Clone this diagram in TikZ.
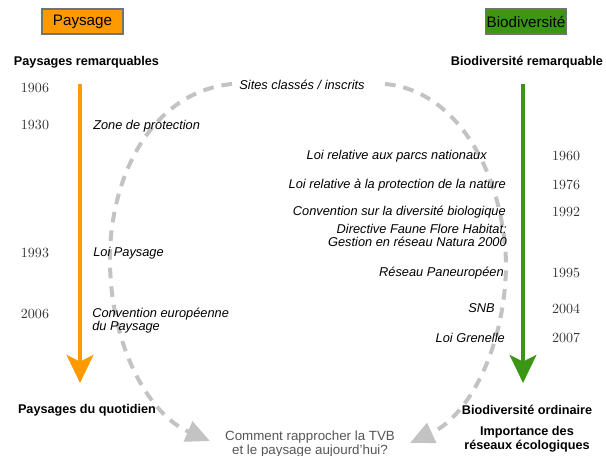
\documentclass[tikz,border=0pt]{standalone}
\usepackage{fontspec}
\setsansfont{Liberation Sans}
\usetikzlibrary{arrows.meta}
\definecolor{paysorange}{RGB}{255,153,0}
\definecolor{biovert}{RGB}{60,150,22}
\definecolor{arcgris}{RGB}{195,195,195}
\definecolor{textgris}{RGB}{85,85,85}

\begin{document}
\begin{tikzpicture}[x=0.75pt,y=-0.75pt,
                        titre/.style={draw=black!55,line width=0.8pt,inner sep=0pt,minimum width=60.75pt,minimum height=18.75pt,font=\sffamily\fontsize{11.4}{13}\selectfont},
                        entete/.style={inner sep=0pt,font=\sffamily\bfseries\fontsize{9.5}{11.5}\selectfont,align=center},
                        annee/.style={inner sep=0pt,text=black!80,font=\rmfamily\fontsize{10.5}{12}\selectfont},
                        loi/.style={inner sep=0pt,font=\sffamily\itshape\fontsize{9.6}{9.75}\selectfont},
                        fleche/.style={line width=3pt,-{Stealth[length=21pt,width=20pt,inset=5pt]}},
                        arc/.style={arcgris,line width=3pt,dash pattern=on 8pt off 6pt,-{Triangle[length=18pt,width=16pt]}}]
                        \useasboundingbox (0,0) rectangle (606,456);
                        \node[titre,fill=paysorange] (paysage) at (82.5,21.5) {Paysage};
                        \node[titre,fill=biovert] (biodiv) at (526,21.5) {Biodiversité};
                        \node[entete] (paysrem) at (86.5,62) {Paysages remarquables};
                        \node[entete] (biorem) at (527,62) {Biodiversité remarquable};
                        \node[entete] (paysquot) at (87,410) {Paysages du quotidien};
                        \node[entete] (bioord) at (527,410) {Biodiversité ordinaire};
                        \node[entete,font=\sffamily\bfseries\fontsize{9.5}{10.5}\selectfont] (reseaux) at (527,439) {Importance des\\réseaux écologiques};
                        \node[inner sep=0pt,text=textgris,align=center,font=\sffamily\fontsize{10}{10.5}\selectfont] (comment) at (310,444) {Comment rapprocher la TVB\\et le paysage aujourd’hui?};
                        \node[loi] (sites) at (302,85) {Sites classés / inscrits};
                        \coordinate (ptop) at (80,84);
                        \coordinate (pbot) at (80,383);
                        \coordinate (btop) at (523,84);
                        \coordinate (bbot) at (523,383);
                        \draw[fleche,paysorange] (ptop) -- (pbot);
                        \draw[fleche,biovert] (btop) -- (bbot);
                        \coordinate (arcLa) at (232,84);
                        \coordinate (arcLb) at (110,265);
                        \coordinate (arcLc) at (210,441);
                        \coordinate (arcRa) at (385,84);
                        \coordinate (arcRb) at (506,262);
                        \coordinate (arcRc) at (410,443);
                        \draw[arc] (arcLa) .. controls (150,92) and (108,180) .. (arcLb) .. controls (112,350) and (150,415) .. (arcLc);
                        \draw[arc] (arcRa) .. controls (455,90) and (503,170) .. (arcRb) .. controls (506,345) and (470,415) .. (arcRc);
                        \node[annee] (a1906) at (35,88) {1906};
                        \node[annee] (a1930) at (35,125) {1930};
                        \node[annee] (a1993) at (35,253) {1993};
                        \node[annee] (a2006) at (35,314) {2006};
                        \node[loi,anchor=west] (zone) at (93,126) {Zone de protection};
                        \node[loi,anchor=west] (loipays) at (93,253) {Loi Paysage};
                        \node[loi,anchor=west,align=left] (conveur) at (92,320.5) {Convention européenne\\du Paysage};
                        \node[annee] (a1960) at (566,156) {1960};
                        \node[annee] (a1976) at (566,185) {1976};
                        \node[annee] (a1992) at (566,212) {1992};
                        \node[annee] (a1995) at (566,273) {1995};
                        \node[annee] (a2004) at (566,309) {2004};
                        \node[annee] (a2007) at (566,338) {2007};
                        \node[loi,anchor=east] (parcs) at (487,156) {Loi relative aux parcs nationaux};
                        \node[loi,anchor=east] (nature) at (506,185) {Loi relative à la protection de la nature};
                        \node[loi,anchor=east] (cdb) at (506,212) {Convention sur la diversité biologique};
                        \node[loi,anchor=east,align=right] (natura) at (507,235.5) {Directive Faune Flore Habitat:\\Gestion en réseau Natura 2000};
                        \node[loi,anchor=east] (paneur) at (504,273) {Réseau Paneuropéen};
                        \node[loi,anchor=east] (snb) at (495,308) {SNB};
                        \node[loi,anchor=east] (grenelle) at (505,338) {Loi Grenelle};
                    \end{tikzpicture}
\end{document}
